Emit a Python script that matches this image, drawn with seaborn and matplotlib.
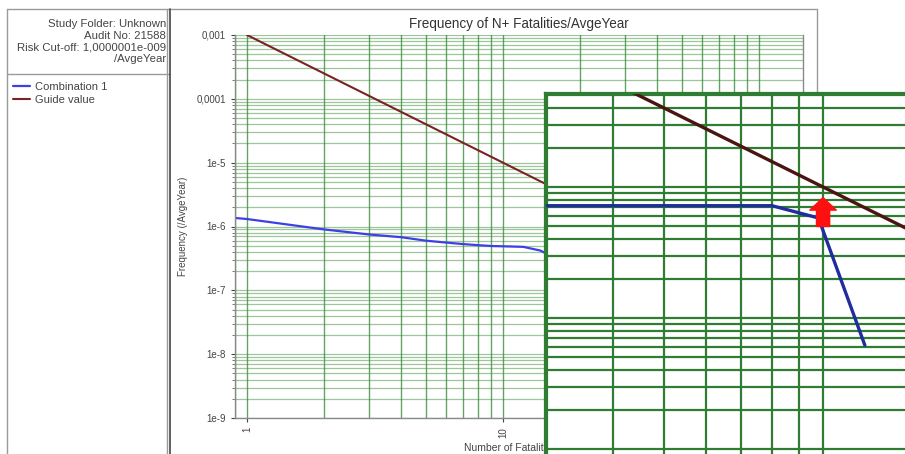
import numpy as np
import matplotlib
matplotlib.use('Agg')
import matplotlib.pyplot as plt
import seaborn as sns
from matplotlib.ticker import FixedLocator, FixedFormatter, LogLocator, NullFormatter
from matplotlib.lines import Line2D

# F-N curve of the study
combo_n = [0.9, 1, 2, 3, 4, 5, 6, 7, 8, 9, 10, 12, 14, 16]
combo_f = [1.36e-6, 1.31e-6, 9.0e-7, 7.5e-7, 6.8e-7, 6.0e-7, 5.6e-7, 5.3e-7,
           5.1e-7, 4.95e-7, 4.9e-7, 4.8e-7, 4.2e-7, 3.2e-7]
# guide value line
guide_n = [1, 10, 100, 1000]
guide_f = [1e-3, 1e-5, 1e-7, 1e-9]
# zoomed detail pasted over the right part of the chart
zoom_n = [2.9, 8, 9.8, 12]
zoom_f = [7.2e-6, 7.2e-6, 5.8e-6, 6.2e-7]
arrow_n = 10
arrow_f = [5.0e-6, 8.3e-6]

y_ticks = [1e-9, 1e-8, 1e-7, 1e-6, 1e-5, 1e-4, 1e-3]
y_labels = ['1e-9', '1e-8', '1e-7', '1e-6', '1e-5', '0,0001', '0,001']
x_ticks = [1, 10, 100]
x_labels = ['1', '10', '100']
info_lines = ['Study Folder: Unknown', 'Audit No: 21588',
              'Risk Cut-off: 1,0000001e-009', '/AvgeYear']

sns.set_style('white')
plt.rcParams['font.family'] = ['Liberation Sans', 'DejaVu Sans']

W, H = 905, 454
fig = plt.figure(figsize=(W / 100, H / 100), dpi=100)


def fx(px):
    return px / W


def fy(py):
    return 1 - py / H


# window frames
frame = dict(color='#9a9a9a', lw=1.0)
for (x0, y0, x1, y1) in [(7, 9, 170, 9), (7, 9, 7, 454), (7, 74, 170, 74),
                         (167, 9, 167, 454), (171, 9, 817, 9), (817, 9, 817, 454)]:
    fig.add_artist(Line2D([fx(x0), fx(x1)], [fy(y0), fy(y1)], **frame))
fig.add_artist(Line2D([fx(170), fx(170)], [fy(9), fy(454)], color='#555555', lw=1.3))

for i, line in enumerate(info_lines):
    fig.text(fx(166), fy(24 + i * 11.7), line, ha='right', va='center',
             fontsize=8.2, color='#444444')

# main chart
ax = fig.add_axes([fx(235), fy(418), fx(803 - 235), fy(35) - fy(418)])
sns.lineplot(x=combo_n, y=combo_f, ax=ax, color='#3f3fe6', lw=1.6,
             label='Combination 1', legend=False)
sns.lineplot(x=guide_n, y=guide_f, ax=ax, color='#7a2323', lw=1.5,
             label='Guide value', legend=False)
ax.set_xscale('log')
ax.set_yscale('log')
ax.set_xlim(0.898, 148.6)
ax.set_ylim(1e-9, 1e-3)
ax.yaxis.set_major_locator(FixedLocator(y_ticks))
ax.yaxis.set_major_formatter(FixedFormatter(y_labels))
ax.yaxis.set_minor_locator(LogLocator(base=10, subs=np.arange(2, 10)))
ax.yaxis.set_minor_formatter(NullFormatter())
ax.xaxis.set_major_locator(FixedLocator(x_ticks))
ax.xaxis.set_major_formatter(FixedFormatter(x_labels))
ax.xaxis.set_minor_locator(LogLocator(base=10, subs=np.arange(2, 10)))
ax.xaxis.set_minor_formatter(NullFormatter())
ax.grid(True, axis='y', which='both', color='#3d8f3d', lw=0.9, alpha=0.5)
ax.grid(True, axis='x', which='both', color='#2f852f', lw=1.0, alpha=0.75)
ax.tick_params(axis='both', which='major', labelsize=7, colors='#444444',
               length=3, width=0.8, left=True, bottom=True)
ax.tick_params(axis='y', which='minor', length=2, width=0.6, left=True, color='#666666')
for lab in ax.get_xticklabels():
    lab.set_rotation(90)
for s in ['left', 'bottom', 'right']:
    ax.spines[s].set_color('#8a8a8a')
    ax.spines[s].set_linewidth(1.0)
ax.spines['top'].set_visible(False)
ax.set_title('Frequency of N+ Fatalities/AvgeYear', fontsize=9.75, color='#333333', pad=5)
ax.set_ylabel('Frequency (/AvgeYear)', fontsize=7, color='#444444')
ax.yaxis.set_label_coords(-0.083, 0.5)
ax.set_xlabel('Number of Fatalities (N)', fontsize=7.5, color='#444444')
ax.xaxis.set_label_coords(0.5, -0.066)

handles, labels = ax.get_legend_handles_labels()
fig.legend(handles, labels, loc='upper left', bbox_to_anchor=(fx(13), fy(82)),
           frameon=False, fontsize=8, handlelength=1.5, handletextpad=0.45,
           labelspacing=0.3, borderaxespad=0, borderpad=0, labelcolor='#444444')

# zoomed inset
ax_in = fig.add_axes([fx(545), 0, fx(905 - 545), fy(93)], zorder=5)
ax_in.set_facecolor('white')
sns.lineplot(x=guide_n, y=guide_f, ax=ax_in, color='#4a1510', lw=2.4)
sns.lineplot(x=zoom_n, y=zoom_f, ax=ax_in, color='#1f2d9e', lw=2.4)
ax_in.set_xscale('log')
ax_in.set_yscale('log')
ax_in.set_xlim(2.97, 14.3)
ax_in.set_ylim(9.16e-8, 5.22e-5)
ax_in.xaxis.set_major_locator(LogLocator(base=10, subs=np.arange(1, 10)))
ax_in.yaxis.set_major_locator(LogLocator(base=10, subs=np.arange(1, 10)))
ax_in.xaxis.set_minor_locator(LogLocator(base=10, subs=[]))
ax_in.yaxis.set_minor_locator(LogLocator(base=10, subs=[]))
ax_in.xaxis.set_major_formatter(NullFormatter())
ax_in.yaxis.set_major_formatter(NullFormatter())
ax_in.tick_params(length=0)
ax_in.grid(True, which='major', color='#2e7d32', lw=1.6)
for s in ['left', 'top']:
    ax_in.spines[s].set_color('#2e7d32')
    ax_in.spines[s].set_linewidth(1.6)
for s in ['right', 'bottom']:
    ax_in.spines[s].set_visible(False)
ax_in.annotate('', xy=(arrow_n, arrow_f[1]), xytext=(arrow_n, arrow_f[0]),
               arrowprops=dict(arrowstyle='simple,head_length=0.9,head_width=1.9,tail_width=0.95',
                               color='#ff1010', shrinkA=0, shrinkB=0))

fig.savefig('out.png', dpi=100)
